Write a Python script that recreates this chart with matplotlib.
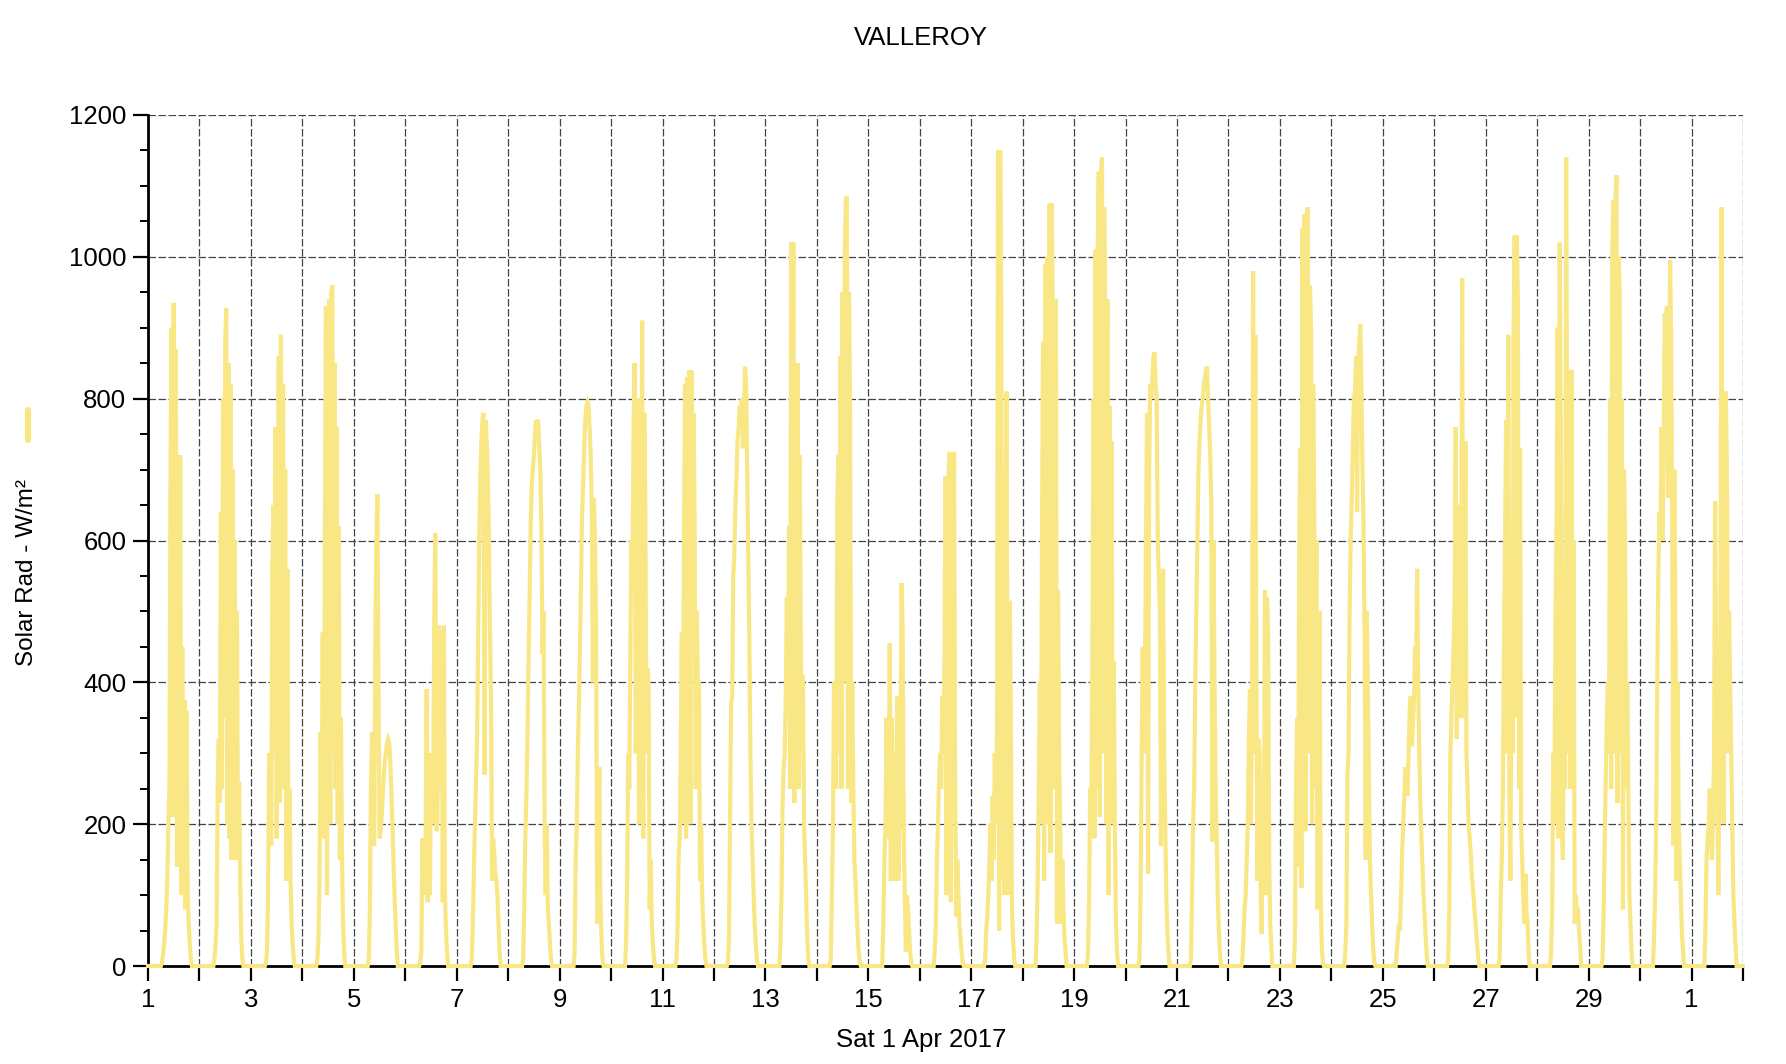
import numpy as np
import matplotlib
matplotlib.use("Agg")
import matplotlib.pyplot as plt
from matplotlib.lines import Line2D

plt.rcParams['font.family'] = ['Liberation Sans', 'DejaVu Sans']

# half-hourly readings 06:00 .. 20:30 for each day, W/m2 (night = 0)
hours = np.arange(6.0, 21.0, 0.5)

d01 = [0, 5, 15, 30, 50, 80, 120, 200, 250, 700, 900, 210, 935, 300, 870, 140, 400, 160, 720, 100, 450, 120, 375, 80, 360, 100, 60, 30, 10, 0]
d02 = [0, 0, 10, 30, 60, 250, 320, 230, 640, 250, 800, 350, 880, 928, 200, 850, 180, 820, 150, 700, 160, 600, 150, 500, 150, 260, 120, 40, 10, 0]
d03 = [0, 0, 5, 20, 100, 300, 200, 170, 560, 650, 300, 760, 180, 540, 860, 230, 890, 250, 820, 300, 700, 120, 560, 130, 250, 120, 60, 30, 10, 0]
d04 = [0, 0, 10, 40, 120, 330, 200, 470, 180, 620, 930, 100, 820, 940, 200, 950, 960, 300, 850, 250, 760, 200, 620, 150, 350, 150, 60, 20, 0, 0]
d05 = [0, 0, 10, 80, 250, 330, 200, 170, 450, 600, 665, 400, 180, 190, 210, 240, 270, 290, 300, 315, 320, 315, 290, 250, 200, 150, 100, 60, 25, 0]
d06 = [0, 0, 5, 20, 180, 100, 120, 180, 390, 90, 180, 100, 300, 290, 200, 480, 610, 190, 200, 480, 250, 470, 470, 90, 480, 100, 50, 20, 0, 0]
d07 = [0, 0, 10, 60, 130, 200, 260, 320, 460, 600, 690, 740, 770, 780, 270, 770, 740, 690, 610, 480, 380, 120, 180, 160, 130, 120, 100, 60, 20, 0]
d08 = [0, 0, 10, 80, 180, 240, 320, 430, 520, 620, 680, 700, 720, 750, 770, 765, 770, 730, 700, 620, 440, 500, 200, 100, 200, 80, 60, 30, 10, 0]
d09 = [0, 0, 20, 150, 200, 300, 370, 450, 550, 640, 680, 740, 770, 790, 795, 790, 760, 720, 650, 400, 660, 600, 480, 60, 150, 280, 100, 40, 10, 0]
d10 = [0, 0, 30, 120, 300, 250, 450, 600, 550, 760, 850, 300, 420, 800, 200, 720, 500, 910, 180, 780, 640, 300, 420, 400, 80, 150, 60, 30, 10, 0]
d11 = [0, 10, 50, 150, 180, 300, 470, 200, 600, 820, 180, 830, 530, 840, 200, 840, 560, 780, 620, 250, 500, 400, 400, 120, 200, 100, 60, 30, 10, 0]
d12 = [0, 5, 40, 200, 370, 380, 550, 580, 650, 690, 740, 760, 790, 780, 800, 730, 780, 845, 820, 700, 590, 460, 300, 200, 150, 100, 60, 30, 10, 0]
d13 = [0, 0, 30, 100, 230, 280, 300, 380, 520, 400, 620, 250, 1020, 300, 1020, 230, 850, 250, 850, 250, 720, 460, 300, 410, 200, 150, 100, 40, 10, 0]
d14 = [0, 10, 100, 200, 400, 300, 250, 650, 720, 300, 860, 250, 950, 400, 1000, 1080, 1085, 250, 950, 780, 230, 400, 250, 150, 120, 80, 50, 20, 5, 0]
d15 = [0, 0, 60, 150, 200, 350, 180, 200, 455, 120, 350, 150, 120, 300, 200, 380, 120, 200, 300, 540, 480, 200, 100, 20, 100, 80, 50, 20, 5, 0]
d16 = [0, 0, 20, 60, 150, 200, 260, 300, 250, 380, 300, 420, 690, 100, 600, 700, 725, 90, 720, 300, 725, 260, 70, 150, 100, 60, 40, 20, 5, 0]
d17 = [0, 10, 50, 70, 100, 150, 200, 120, 240, 150, 300, 200, 330, 1150, 50, 1150, 945, 120, 700, 100, 250, 810, 150, 100, 515, 345, 80, 40, 10, 0]
d18 = [0, 40, 120, 250, 400, 200, 600, 880, 120, 990, 300, 1000, 200, 1075, 160, 1075, 940, 930, 250, 940, 60, 530, 300, 200, 60, 150, 80, 40, 20, 0]
d19 = [0, 20, 100, 250, 200, 440, 800, 180, 1010, 250, 1010, 1120, 210, 1120, 1140, 300, 1070, 930, 200, 940, 100, 790, 300, 740, 200, 430, 200, 60, 20, 0]
d20 = [0, 10, 100, 300, 450, 300, 400, 600, 780, 130, 700, 820, 800, 830, 860, 865, 820, 800, 600, 550, 500, 170, 400, 560, 300, 200, 100, 50, 20, 0]
d21 = [0, 10, 100, 200, 250, 400, 500, 600, 700, 740, 770, 790, 800, 820, 830, 840, 845, 800, 760, 720, 650, 175, 600, 400, 250, 180, 100, 50, 20, 0]
d22 = [0, 10, 40, 80, 100, 150, 200, 320, 390, 200, 400, 980, 300, 890, 420, 120, 320, 300, 100, 45, 260, 150, 530, 100, 520, 460, 150, 60, 25, 0]
d23 = [0, 0, 40, 250, 350, 140, 600, 730, 110, 1040, 200, 1060, 190, 1060, 1070, 300, 960, 900, 200, 820, 640, 250, 600, 80, 200, 500, 100, 30, 5, 0]
d24 = [0, 20, 60, 270, 300, 500, 600, 660, 730, 800, 810, 860, 640, 850, 880, 905, 820, 700, 620, 460, 150, 500, 400, 280, 150, 100, 60, 25, 5, 0]
d25 = [0, 20, 40, 60, 50, 100, 160, 200, 240, 280, 260, 240, 300, 360, 380, 310, 340, 370, 450, 420, 560, 400, 300, 230, 180, 140, 100, 70, 40, 15]
d26 = [0, 10, 80, 300, 350, 400, 450, 520, 760, 320, 600, 650, 350, 420, 970, 350, 400, 740, 300, 250, 200, 180, 160, 130, 110, 90, 70, 50, 30, 10]
d27 = [0, 10, 100, 150, 250, 450, 600, 770, 300, 890, 250, 120, 480, 300, 900, 1030, 350, 1030, 940, 250, 730, 200, 150, 100, 60, 130, 80, 60, 20, 0]
d28 = [0, 20, 80, 300, 200, 480, 620, 900, 180, 1020, 760, 200, 150, 500, 250, 1140, 700, 300, 800, 250, 840, 300, 600, 60, 100, 80, 80, 50, 30, 0]
d29 = [0, 10, 80, 180, 270, 350, 400, 300, 800, 250, 1000, 1080, 300, 1080, 1115, 230, 1000, 950, 300, 800, 80, 700, 600, 250, 400, 250, 100, 60, 20, 0]
d30 = [0, 40, 100, 200, 400, 550, 640, 600, 760, 600, 750, 920, 880, 930, 660, 800, 995, 880, 600, 170, 700, 480, 120, 400, 200, 150, 100, 50, 20, 0]
d31 = [0, 60, 150, 180, 200, 250, 200, 150, 200, 300, 655, 400, 250, 100, 300, 500, 1070, 300, 200, 580, 810, 700, 300, 500, 400, 300, 200, 100, 60, 30]

days = [d01, d02, d03, d04, d05, d06, d07, d08, d09, d10, d11, d12, d13, d14, d15, d16,
        d17, d18, d19, d20, d21, d22, d23, d24, d25, d26, d27, d28, d29, d30, d31]

day_labels = ['1', '', '3', '', '5', '', '7', '', '9', '', '11', '', '13', '', '15', '',
              '17', '', '19', '', '21', '', '23', '', '25', '', '27', '', '29', '', '1', '']

t = []
v = []
for i, vals in enumerate(days):
    t += [i, i + 5.5 / 24] + [i + h / 24 for h in hours] + [i + 21.0 / 24]
    v += [0, 0] + vals + [0]
t.append(len(days))
v.append(0)

yellow = '#F9E785'

fig = plt.figure(figsize=(17.86, 10.64), dpi=100)
ax = fig.add_axes([148 / 1786, 1 - 966 / 1064, 1595 / 1786, 851 / 1064])

ax.plot(t, v, color=yellow, linewidth=3.0, solid_joinstyle='miter', zorder=5, clip_on=False)

ax.set_xlim(0, len(days))
ax.set_ylim(0, 1200)
ax.set_xticks(range(len(days) + 1))
ax.set_xticklabels(day_labels)
ax.set_yticks(range(0, 1201, 200))
ax.set_yticks(range(0, 1201, 50), minor=True)

ax.grid(True, which='major', color='#444444', linestyle=(0, (6, 2)), linewidth=0.9)
ax.set_axisbelow(True)
for s in ['top', 'right']:
    ax.spines[s].set_visible(False)
for s in ['left', 'bottom']:
    ax.spines[s].set_linewidth(2.0)
    ax.spines[s].set_zorder(4)

ax.tick_params(axis='both', which='major', direction='out', length=10.5, width=1.6,
               labelsize=18.5, pad=5)
ax.tick_params(axis='y', which='minor', direction='out', length=5.5, width=1.4)
ax.tick_params(axis='x', which='minor', length=0)

fig.text(921 / 1786, 1 - 38 / 1064, 'VALLEROY', ha='center', va='center', fontsize=18.5)
fig.text(921 / 1786, 1 - 1040 / 1064, 'Sat 1 Apr 2017', ha='center', va='center', fontsize=18.5)
fig.text(27 / 1786, 1 - 573 / 1064, 'Solar Rad - W/m²', rotation=90, ha='center', va='center',
         fontsize=17.5)
fig.add_artist(Line2D([28 / 1786, 28 / 1786], [1 - 410 / 1064, 1 - 440 / 1064],
                      transform=fig.transFigure, color=yellow, linewidth=4.5,
                      solid_capstyle='round'))

fig.savefig('out.png', dpi=100)
